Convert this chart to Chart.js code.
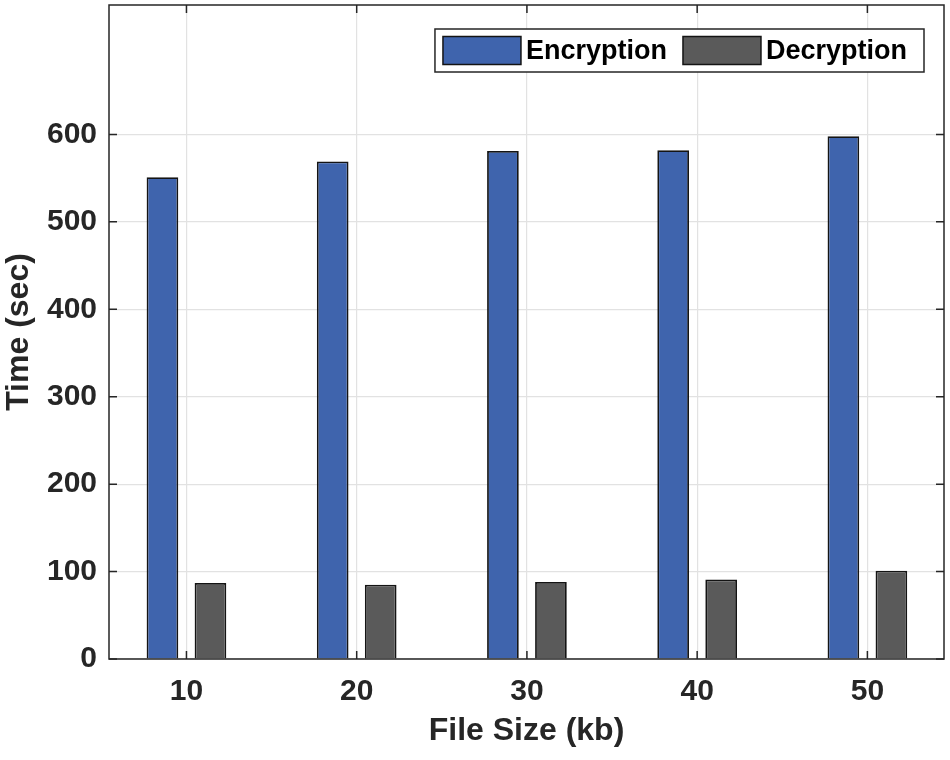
<!DOCTYPE html>
<html>
<head>
<meta charset="utf-8">
<script src="https://cdn.jsdelivr.net/npm/chart.js@4.4.0/dist/chart.umd.min.js"></script>
<style>
    html, body { margin: 0; padding: 0; background: #fff; }
    #wrap { width: 950px; height: 760px; }
</style>
</head>
<body>
<div id="wrap"><canvas id="timeChart" width="950" height="760"></canvas></div>
<script>
        // Data
        const fileSizes = [10, 20, 30, 40, 50];
        const encryptionTimes = [551, 569, 581, 582, 598];
        const decryptionTimes = [87, 85, 88, 91, 101];
        const yTickValues = [0, 100, 200, 300, 400, 500, 600];

        const textColor = '#262626';
        const fontFamily = '"Liberation Sans", Arial, Helvetica, sans-serif';

        // Frame, inward tick marks and the boxed legend inside the plot
        const framePlugin = {
            id: 'frame',
            afterDatasetsDraw(chart) {
                const ctx = chart.ctx;
                const area = chart.chartArea;
                const xs = chart.scales.x;
                const ys = chart.scales.y;
                const tl = 8;

                ctx.save();
                ctx.strokeStyle = textColor;
                ctx.lineWidth = 1.5;
                ctx.beginPath();
                fileSizes.forEach(v => {
                    const px = xs.getPixelForValue(v);
                    ctx.moveTo(px, area.bottom);
                    ctx.lineTo(px, area.bottom - tl);
                    ctx.moveTo(px, area.top);
                    ctx.lineTo(px, area.top + tl);
                });
                yTickValues.forEach(v => {
                    const py = ys.getPixelForValue(v);
                    ctx.moveTo(area.left, py);
                    ctx.lineTo(area.left + tl, py);
                    ctx.moveTo(area.right, py);
                    ctx.lineTo(area.right - tl, py);
                });
                ctx.stroke();
                ctx.strokeRect(area.left, area.top, area.right - area.left, area.bottom - area.top);

                // legend
                const ds = chart.data.datasets;
                ctx.font = 'bold 27px ' + fontFamily;
                const sw = 78, sh = 28, gap = 5, between = 16, padL = 8, padR = 17;
                let w = padL + padR;
                ds.forEach((d, i) => {
                    w += sw + gap + ctx.measureText(d.label).width;
                    if (i < ds.length - 1) w += between;
                });
                const boxRight = area.right - 20;
                const boxLeft = boxRight - w;
                const boxTop = area.top + 24;
                const boxH = 43;
                ctx.fillStyle = '#ffffff';
                ctx.fillRect(boxLeft, boxTop, w, boxH);
                ctx.lineWidth = 1.5;
                ctx.strokeRect(boxLeft, boxTop, w, boxH);

                let x = boxLeft + padL;
                const cy = boxTop + boxH / 2;
                ctx.textBaseline = 'middle';
                ctx.textAlign = 'left';
                ds.forEach(d => {
                    ctx.fillStyle = d.backgroundColor;
                    ctx.fillRect(x, cy - sh / 2, sw, sh);
                    ctx.lineWidth = 1.5;
                    ctx.strokeStyle = d.borderColor;
                    ctx.strokeRect(x, cy - sh / 2, sw, sh);
                    x += sw + gap;
                    ctx.fillStyle = '#000';
                    ctx.fillText(d.label, x, cy + 1);
                    x += ctx.measureText(d.label).width + between;
                });
                ctx.restore();
            }
        };

        const ctx = document.getElementById('timeChart').getContext('2d');
        const timeChart = new Chart(ctx, {
            type: 'bar',
            data: {
                datasets: [{
                    label: 'Encryption',
                    data: fileSizes.map((s, i) => ({ x: s, y: encryptionTimes[i] })),
                    backgroundColor: '#3f64ad',
                    borderColor: '#141414',
                    borderWidth: 1.8,
                    categoryPercentage: 0.564,
                    barPercentage: 0.66
                }, {
                    label: 'Decryption',
                    data: fileSizes.map((s, i) => ({ x: s, y: decryptionTimes[i] })),
                    backgroundColor: '#5a5a5a',
                    borderColor: '#141414',
                    borderWidth: 1.8,
                    categoryPercentage: 0.564,
                    barPercentage: 0.66
                }]
            },
            options: {
                responsive: false,
                animation: false,
                layout: {
                    padding: { top: 5, right: 6, left: 0, bottom: 0 }
                },
                plugins: {
                    legend: { display: false },
                    tooltip: { enabled: false }
                },
                scales: {
                    x: {
                        type: 'linear',
                        min: 5.45,
                        max: 54.5,
                        offset: false,
                        afterBuildTicks: function(scale) {
                            scale.ticks = fileSizes.map(v => ({ value: v }));
                        },
                        afterFit: function(scale) {
                            scale.height = 101;
                            scale.paddingLeft = 0;
                            scale.paddingRight = 0;
                        },
                        grid: {
                            offset: false,
                            color: '#e2e2e2',
                            lineWidth: 1.2,
                            drawTicks: false
                        },
                        border: { display: false },
                        ticks: {
                            padding: 15,
                            color: textColor,
                            font: { family: fontFamily, size: 30, weight: 'bold' }
                        },
                        title: {
                            display: true,
                            text: 'File Size (kb)',
                            color: textColor,
                            padding: { top: 0, bottom: 10 },
                            font: { family: fontFamily, size: 32, weight: 'bold' }
                        }
                    },
                    y: {
                        min: 0,
                        max: 748,
                        afterBuildTicks: function(scale) {
                            scale.ticks = yTickValues.map(v => ({ value: v }));
                        },
                        afterFit: function(scale) {
                            scale.width = 109;
                            scale.paddingTop = 0;
                            scale.paddingBottom = 0;
                        },
                        grid: {
                            color: '#e2e2e2',
                            lineWidth: 1.2,
                            drawTicks: false
                        },
                        border: { display: false },
                        ticks: {
                            padding: 12,
                            color: textColor,
                            font: { family: fontFamily, size: 30, weight: 'bold' }
                        },
                        title: {
                            display: true,
                            text: 'Time (sec)',
                            color: textColor,
                            padding: { top: 0, bottom: 0 },
                            font: { family: fontFamily, size: 32, weight: 'bold' }
                        }
                    }
                }
            },
            plugins: [framePlugin]
        });
</script>
</body>
</html>
